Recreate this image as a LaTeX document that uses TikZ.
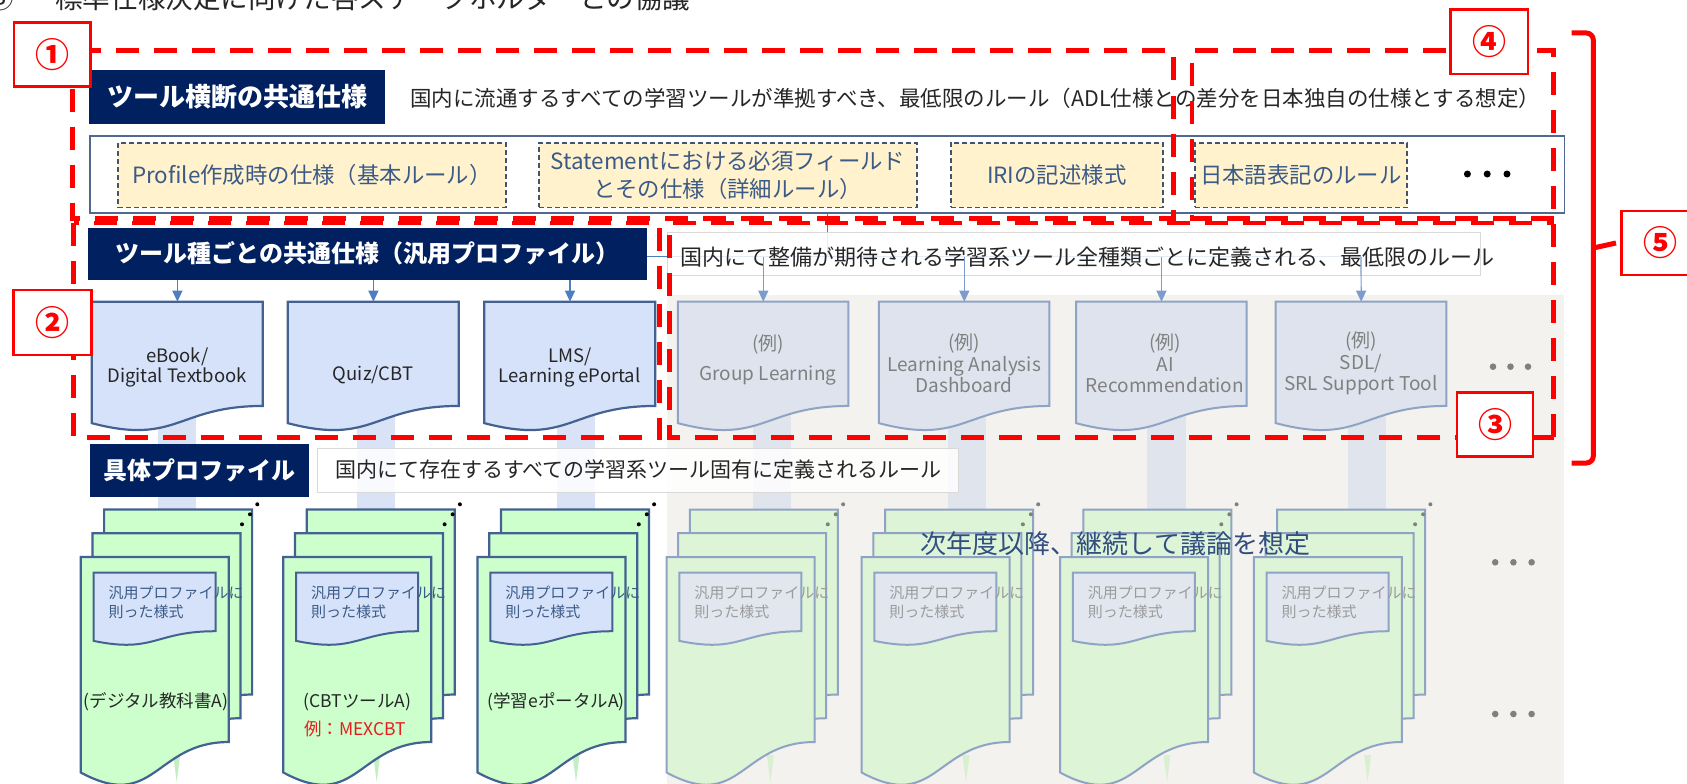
\documentclass[tikz,border=0pt]{standalone}
\usepackage{fontspec}
\setmainfont{Noto Sans CJK JP}
\usetikzlibrary{arrows.meta}
\definecolor{navy}{RGB}{0,32,96}
\definecolor{docfill}{RGB}{214,226,250}
\definecolor{docbord}{RGB}{68,98,145}
\definecolor{gdocfill}{RGB}{222,227,237}
\definecolor{gdocbord}{RGB}{143,163,196}
\definecolor{gtext}{RGB}{128,128,128}
\definecolor{gfill}{RGB}{204,255,204}
\definecolor{ggfill}{RGB}{221,244,215}
\definecolor{yfill}{RGB}{255,242,204}
\definecolor{ybord}{RGB}{68,84,106}
\definecolor{ytext}{RGB}{59,90,135}
\definecolor{dtext}{RGB}{38,38,38}
\definecolor{lgray}{RGB}{217,217,217}
\definecolor{bgray}{RGB}{243,242,238}
\definecolor{arrowc}{RGB}{79,126,192}
\definecolor{garrowc}{RGB}{125,156,205}
\definecolor{barc}{RGB}{218,227,245}
\definecolor{gbarc}{RGB}{223,228,237}
\definecolor{contb}{RGB}{82,105,143}
\definecolor{futc}{RGB}{50,78,128}
\definecolor{mexred}{RGB}{230,30,30}
\definecolor{ginner}{RGB}{225,230,239}
\definecolor{ginnert}{RGB}{155,155,155}
\definecolor{spikec}{RGB}{196,238,196}
\definecolor{gspikec}{RGB}{214,240,208}

\newcommand\docshape[6]{%
  \pgfmathsetmacro\dxl{#3}%
  \pgfmathsetmacro\dyt{#4}%
  \pgfmathsetmacro\dxr{#3+#5}%
  \pgfmathsetmacro\dym{#4+0.802*#6}%
  \pgfmathsetmacro\dxm{#3+0.5*#5}%
  \pgfmathsetmacro\dyc{#4+1.1075*#6}%
  \pgfmathsetmacro\dyl{#4+0.934*#6}%
  \path[#2] (\dxl,\dyt) -- (\dxr,\dyt) -- (\dxr,\dym) .. controls (\dxm,\dym) and (\dxm,\dyc) .. (\dxl,\dyl) -- cycle;%
  \node[inner sep=0pt, minimum width=#5pt, minimum height=#6pt, anchor=north west] (#1) at (\dxl,\dyt) {};%
}
\newcommand\docgroup[6]{%
  \docshape{#1c}{#3}{#2+23.4}{509.5}{148}{230.7}%
  \docshape{#1b}{#3}{#2+11.7}{533.2}{148}{230.7}%
  \docshape{#1a}{#3}{#2}{557}{148}{230.7}%
  \fill[#6] (#2+176.6,504.3) circle (2pt) (#2+169.3,514.3) circle (2pt) (#2+161.3,524.3) circle (2pt);%
  \docshape{#1i}{#4}{#2+12.8}{572.5}{122}{73.2}%
  \node[#5, anchor=west, align=left] (#1t) at (#2+27.6,602.2) {汎用プロファイルに\\則った様式};%
}

\begin{document}
\begin{tikzpicture}[x=1pt,y=-1pt,
  redbox/.style={draw=red, line width=2.5pt, fill=white, text=red, font=\fontsize{34}{36}\selectfont\bfseries, inner sep=0pt},
  reddash/.style={draw=red, line width=4.8pt, dash pattern=on 23pt off 15pt},
  navybox/.style={fill=navy, text=white, inner sep=0pt, anchor=north west},
  ybox/.style={draw=ybord, line width=1.5pt, dash pattern=on 5pt off 3pt, fill=yfill, text=ytext, inner sep=0pt, anchor=north west, font=\fontsize{22.4}{28.3}\selectfont, align=center},
  desc/.style={text=dtext, font=\fontsize{21}{25}\selectfont, inner sep=0pt},
  descbox/.style={draw=lgray, line width=1pt, fill=white, fill opacity=0.85, inner sep=0pt, anchor=north west},
  bluedoc/.style={fill=docfill, draw=docbord, line width=2.2pt},
  graydoc/.style={fill=gdocfill, draw=gdocbord, line width=2pt},
  greendoc/.style={fill=gfill, draw=docbord, line width=2.2pt},
  ggreendoc/.style={fill=ggfill, draw=gdocbord, line width=2pt},
  innerdoc/.style={fill=docfill, draw=docbord, line width=2pt},
  ginnerdoc/.style={fill=ginner, draw=gdocbord, line width=2pt},
  innertext/.style={font=\fontsize{15}{19}\selectfont, text=ytext, inner sep=0pt},
  ginnertext/.style={font=\fontsize{15}{19}\selectfont, text=ginnert, inner sep=0pt},
  doctext/.style={font=\fontsize{18.5}{20}\selectfont, text=dtext, align=center, inner sep=0pt},
  gdoctext/.style={font=\fontsize{19}{21.7}\selectfont, text=gtext, align=center, inner sep=0pt},
  grplabel/.style={font=\fontsize{17.5}{20}\selectfont, text=dtext, inner sep=0pt},
  conn/.style={draw=arrowc, line width=1.2pt},
  arr/.style={conn, -{Triangle[length=11pt,width=10pt]}},
  garr/.style={draw=garrowc, line width=1.2pt, -{Triangle[length=11pt,width=10pt]}},
]
\useasboundingbox (0,0) rectangle (1687,784);
\fill[white] (0,0) rectangle (1687,784);
% future area background
\fill[bgray] (666.5,295) rectangle (1564,784);

% slide title (cut at top, as in the reference)
\node[anchor=base west, inner sep=0pt, text=dtext, font=\fontsize{27.6}{30}\selectfont] (ttl) at (55,9) {標準仕様決定に向けた各ステークホルダーとの協議};
\node[anchor=base east, inner sep=0pt, text=dtext, font=\fontsize{27.6}{30}\selectfont] (ttlnum) at (14,9) {③};

% vertical bars between layers
\fill[barc] (157.7,405) rectangle (196,512);
\fill[barc] (357.3,405) rectangle (395.3,512);
\fill[barc] (556.7,405) rectangle (595,512);
\fill[gbarc] (752.5,405) rectangle (790.5,512);
\fill[gbarc] (947.6,405) rectangle (986,512);
\fill[gbarc] (1147,405) rectangle (1185.5,512);
\fill[gbarc] (1347.7,405) rectangle (1386,512);

% spikes under groups
\foreach \sx in {176.7,376.7,576}{\fill[spikec] (\sx-3.5,755) -- (\sx+3.5,755) -- (\sx,782) -- cycle;}
\foreach \sx in {770.4,966,1167,1367.6}{\fill[gspikec] (\sx-3.5,755) -- (\sx+3.5,755) -- (\sx,782) -- cycle;}

% ===== row 1 =====
\node[navybox, minimum width=296.3pt, minimum height=53.3pt, font=\fontsize{26}{30}\selectfont\bfseries] (n1) at (88.7,70) {ツール横断の共通仕様};
\node[desc, anchor=west, font=\fontsize{21.5}{25}\selectfont] (d1) at (410,98.3) {国内に流通するすべての学習ツールが準拠すべき、最低限のルール（ADL仕様との差分を日本独自の仕様とする想定）};
\node[draw=contb, line width=1.8pt, fill=white, inner sep=0pt, minimum width=1474.9pt, minimum height=77.3pt, anchor=north west] (cont) at (88.7,135) {};
\node[ybox, minimum width=387.7pt, minimum height=64.5pt] (y1) at (117.3,142) {Profile作成時の仕様（基本ルール）};
\node[ybox, minimum width=377.7pt, minimum height=64.5pt] (y2) at (538.3,142) {Statementにおける必須フィールド\\とその仕様（詳細ルール）};
\node[ybox, minimum width=212pt, minimum height=64.5pt] (y3) at (950,142) {IRIの記述様式};
\node[ybox, minimum width=212.3pt, minimum height=64.5pt] (y4) at (1194,142) {日本語表記のルール};
\fill[black] (1467.4,174) circle (3.5pt) (1487.2,174) circle (3.5pt) (1507,174) circle (3.5pt);

% ===== row 2 =====
\coordinate (hub) at (827.2,256.7);
\coordinate (hend) at (1361,256.7);
\draw[conn] (cont.south -| hub) -- (hub);
\node[navybox, minimum width=558.4pt, minimum height=52pt, font=\fontsize{24}{28}\selectfont\bfseries] (n2) at (88,227.3) {ツール種ごとの共通仕様（汎用プロファイル）};
\draw[conn] (n2.east |- hub) -- (hend);
\node[descbox, minimum width=813.5pt, minimum height=43.3pt] (d2) at (666.5,231.7) {};
\node[desc, anchor=west, font=\fontsize{22}{25}\selectfont] (d2t) at (679.8,256.7) {国内にて整備が期待される学習系ツール全種類ごとに定義される、最低限のルール};

\docshape{b1}{bluedoc}{91.7}{301.7}{171}{130}
\docshape{b2}{bluedoc}{287.7}{301.7}{171}{130}
\docshape{b3}{bluedoc}{484.3}{301.7}{171}{130}
\docshape{g1}{graydoc}{677.8}{301.7}{170.6}{130}
\docshape{g2}{graydoc}{878.8}{301.7}{170.6}{130}
\docshape{g3}{graydoc}{1076}{301.7}{170.6}{130}
\docshape{g4}{graydoc}{1275.7}{301.7}{170.6}{130}

\draw[arr] (n2.south -| b1.north) -- (b1.north);
\draw[arr] (n2.south -| b2.north) -- (b2.north);
\draw[arr] (n2.south -| b3.north) -- (b3.north);
\draw[garr] (hub -| g1.north) -- (g1.north);
\draw[garr] (hub -| g2.north) -- (g2.north);
\draw[garr] (hub -| g3.north) -- (g3.north);
\draw[garr] (hend) -- (g4.north);

\node[doctext] (b1t) at (177.2,367.3) {eBook/\\Digital Textbook};
\node[doctext] (b2t) at (373.2,375) {Quiz/CBT};
\node[doctext] (b3t) at (569.8,367.3) {LMS/\\Learning ePortal};
\node[gdoctext] (g1t) at (768,360) {(例)\\[8pt]Group Learning};
\node[gdoctext] (g2t) at (964,363.3) {(例)\\Learning Analysis\\Dashboard};
\node[gdoctext] (g3t) at (1165,363.3) {(例)\\AI\\Recommendation};
\node[gdoctext] (g4t) at (1361,363.3) {(例)\\SDL/\\SRL Support Tool};
\fill[gtext] (1493,366.7) circle (3.3pt) (1510.5,366.7) circle (3.3pt) (1528,366.7) circle (3.3pt);

% ===== row 3 =====
\node[navybox, minimum width=219pt, minimum height=53.7pt, font=\fontsize{24}{28}\selectfont\bfseries] (n3) at (89.3,443.3) {具体プロファイル};
\node[descbox, minimum width=640.8pt, minimum height=43.4pt] (d3) at (316.7,448.3) {};
\node[desc, anchor=west] (d3t) at (335,470) {国内にて存在するすべての学習系ツール固有に定義されるルール};

\docgroup{ga}{80.7}{greendoc}{innerdoc}{innertext}{black}
\docgroup{gb}{283.3}{greendoc}{innerdoc}{innertext}{black}
\docgroup{gc}{477.5}{greendoc}{innerdoc}{innertext}{black}
\docgroup{gd}{666.5}{ggreendoc}{ginnerdoc}{ginnertext}{gtext}
\docgroup{ge}{861.6}{ggreendoc}{ginnerdoc}{ginnertext}{gtext}
\docgroup{gf}{1060}{ggreendoc}{ginnerdoc}{ginnertext}{gtext}
\docgroup{gg}{1253.8}{ggreendoc}{ginnerdoc}{ginnertext}{gtext}

\node[grplabel] (la) at (156,701.7) {(デジタル教科書A)};
\node[grplabel] (lb) at (357.5,701.7) {(CBTツールA)};
\node[grplabel, text=mexred] (lb2) at (355,729.3) {例：MEXCBT};
\node[grplabel] (lc) at (556,701.7) {(学習eポータルA)};

\node[font=\fontsize{26}{30}\selectfont, text=futc, inner sep=0pt] (fut) at (1115.5,543.3) {次年度以降、継続して議論を想定};
\fill[gtext] (1495.2,562.3) circle (3.3pt) (1513.4,562.3) circle (3.3pt) (1531.6,562.3) circle (3.3pt);
\fill[gtext] (1495.2,714) circle (3.3pt) (1513.4,714) circle (3.3pt) (1531.6,714) circle (3.3pt);

% ===== red dashed frames =====
\draw[reddash] (72.7,50.7) rectangle (1173.3,218.3);
\draw[reddash] (1553.5,218.3) -- (1192,218.3) -- (1192,50.7) -- (1553.5,50.7) -- (1553.5,437.7);
\draw[reddash] (73.7,223) rectangle (659.8,437.7);
\draw[reddash] (1553.5,437.7) -- (669.6,437.7) -- (669.6,223) -- (1553.5,223);

\node[redbox, minimum width=76.7pt, minimum height=64.4pt] (L1) at (52.3,54.5) {①};
\node[redbox, minimum width=78pt, minimum height=65pt] (L2) at (52.5,322.5) {②};
\node[redbox, minimum width=76pt, minimum height=64pt] (L3) at (1495,424.7) {③};
\node[redbox, minimum width=77.5pt, minimum height=64.7pt] (L4) at (1489.3,41.7) {④};
\node[redbox, minimum width=77pt, minimum height=64.3pt] (L5) at (1660.2,243) {⑤};

% brace
\coordinate (bnib) at (1593.3,248);
\draw[red, line width=5pt, rounded corners=7pt] (1571.7,33) -- (1593.3,33) -- (1593.3,463) -- (1571.7,463);
\draw[red, line width=5pt] (bnib) -- (L5.west -| 1616,0);
\end{tikzpicture}
\end{document}
